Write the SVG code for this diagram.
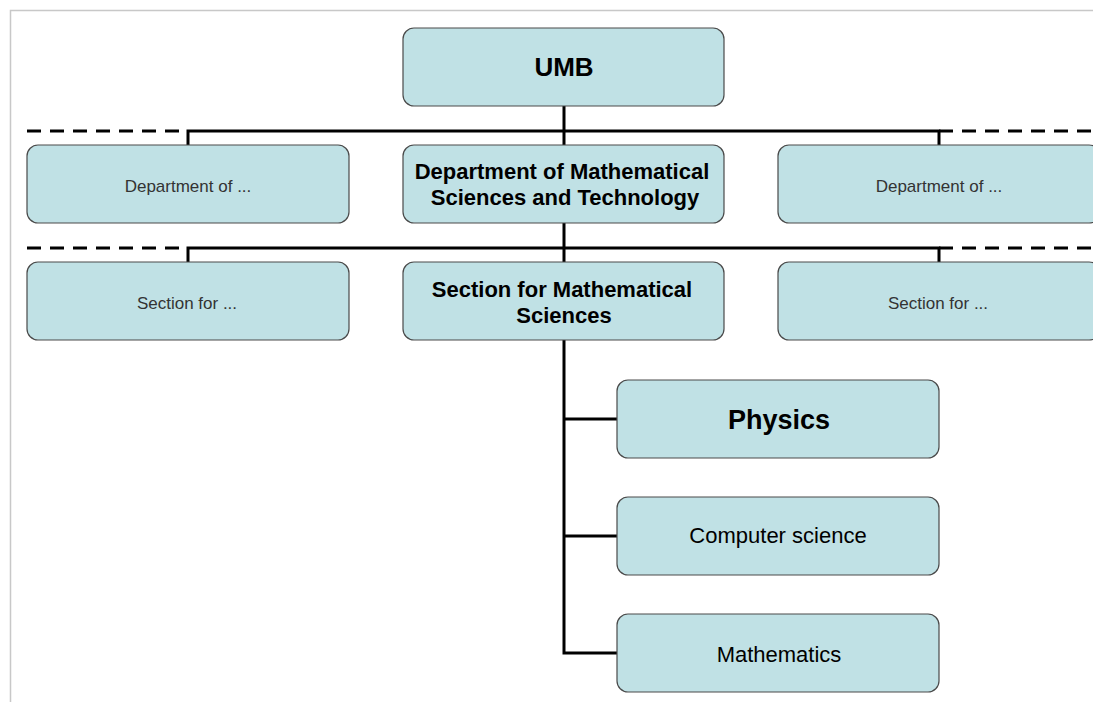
<svg xmlns="http://www.w3.org/2000/svg" width="1093" height="702" viewBox="0 0 1093 702">
<style>
.box{fill:#c0e1e5;stroke:#4a4a4a;stroke-width:1.2}
.t{font-family:"Liberation Sans",Arial,sans-serif;fill:#000;text-anchor:middle}
.b{font-weight:bold}
.s{fill:#333;font-size:17px}
.ln{stroke:#000;stroke-width:3;fill:none}
.dash{stroke:#000;stroke-width:3;fill:none;stroke-dasharray:14 9}
</style>
<rect x="0" y="0" width="1093" height="702" fill="#fff"/>
<path d="M10.5 702 V10.5 H1093" fill="none" stroke="#c8c8c8" stroke-width="1.5"/>
<g id="connectors">
<line class="dash" x1="27" y1="131" x2="188" y2="131"/>
<line class="dash" x1="939" y1="131" x2="1093" y2="131"/>
<line class="dash" x1="27" y1="248" x2="188" y2="248"/>
<line class="dash" x1="939" y1="248" x2="1093" y2="248"/>
<path class="ln" d="M564 106 V145 M188 145 V131 H939 V145"/>
<path class="ln" d="M564 223 V262 M188 262 V248 H939 V262"/>
<path class="ln" d="M564 340 V653 H617 M564 419 H617 M564 536 H617"/>
</g>
<g id="umb">
<rect class="box" x="403" y="28" width="321" height="78" rx="11"/>
<text class="t b" x="564" y="76" font-size="26">UMB</text>
</g>
<g id="dept-left">
<rect class="box" x="27" y="145" width="322" height="78" rx="11"/>
<text class="t s" x="188" y="192">Department of ...</text>
</g>
<g id="dept-center">
<rect class="box" x="403" y="145" width="321" height="78" rx="11"/>
<text class="t b" x="562" y="179" font-size="22">Department of Mathematical</text>
<text class="t b" x="565" y="205" font-size="22">Sciences and Technology</text>
</g>
<g id="dept-right">
<rect class="box" x="778" y="145" width="322" height="78" rx="11"/>
<text class="t s" x="939" y="192">Department of ...</text>
</g>
<g id="section-left">
<rect class="box" x="27" y="262" width="322" height="78" rx="11"/>
<text class="t s" x="187" y="309">Section for ...</text>
</g>
<g id="section-center">
<rect class="box" x="403" y="262" width="321" height="78" rx="11"/>
<text class="t b" x="562" y="297" font-size="22">Section for Mathematical</text>
<text class="t b" x="564" y="323" font-size="22">Sciences</text>
</g>
<g id="section-right">
<rect class="box" x="778" y="262" width="322" height="78" rx="11"/>
<text class="t s" x="938" y="309">Section for ...</text>
</g>
<g id="physics">
<rect class="box" x="617" y="380" width="322" height="78" rx="11"/>
<text class="t b" x="779" y="429" font-size="27">Physics</text>
</g>
<g id="cs">
<rect class="box" x="617" y="497" width="322" height="78" rx="11"/>
<text class="t" x="778" y="543" font-size="22">Computer science</text>
</g>
<g id="math">
<rect class="box" x="617" y="614" width="322" height="78" rx="11"/>
<text class="t" x="779" y="662" font-size="22">Mathematics</text>
</g>
</svg>
